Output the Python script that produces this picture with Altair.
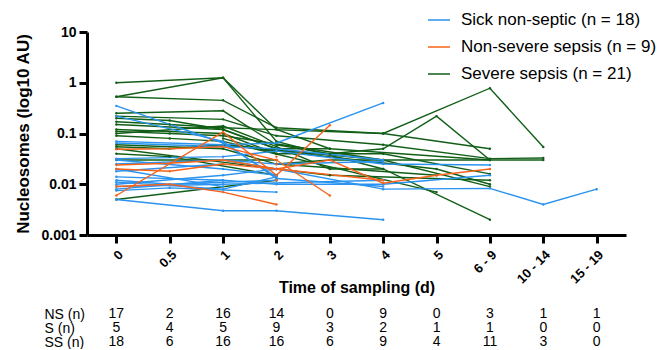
import altair as alt
import pandas as pd

times = ["0", "0.5", "1", "2", "3", "4", "5", "6 - 9", "10 - 14", "15 - 19"]
groups = ["Sick non-septic (n = 18)", "Non-severe sepsis (n = 9)", "Severe sepsis (n = 21)"]
colors = ["#2A93F0", "#F7631B", "#115E17"]
N = None

# Sick non-septic patients (value per time point, None = not sampled)
ns = [
    [0.35, N, 0.065, 0.014, N, N, N, N, N, N],
    [0.22, N, 0.07, 0.013, N, 0.009, N, N, N, N],
    [0.07, N, 0.06, 0.065, N, 0.4, N, N, N, N],
    [0.065, N, 0.055, 0.05, N, 0.03, N, N, N, N],
    [0.032, N, 0.035, 0.045, N, 0.025, N, 0.024, N, N],
    [0.03, N, 0.02, 0.015, N, N, N, N, N, N],
    [0.025, N, 0.03, 0.02, N, 0.008, N, 0.0083, 0.004, 0.008],
    [0.014, N, 0.012, 0.01, N, 0.01, N, 0.015, N, N],
    [0.012, 0.01, N, 0.012, N, N, N, N, N, N],
    [0.011, N, 0.008, 0.014, N, N, N, N, N, N],
    [0.01, N, 0.015, 0.02, N, N, N, N, N, N],
    [0.009, N, 0.01, N, N, 0.012, N, N, N, N],
    [0.008, N, 0.012, N, N, N, N, N, N, N],
    [0.0075, 0.0085, N, 0.007, N, N, N, N, N, N],
    [0.005, N, 0.003, 0.003, N, 0.002, N, N, N, N],
    [0.018, N, 0.025, N, N, N, N, N, N, N],
    [0.02, N, 0.009, N, N, N, N, N, N, N],
    [N, N, 0.03, 0.025, N, 0.028, N, N, N, N],
]
# Non-severe sepsis patients
s = [
    [0.006, N, 0.106, 0.015, 0.145, N, N, N, N, N],
    [0.049, 0.05, 0.055, 0.03, 0.006, N, N, N, N, N],
    [0.024, 0.026, 0.03, 0.02, 0.03, 0.0105, 0.015, 0.02, N, N],
    [0.02, 0.018, 0.025, 0.02, N, 0.012, N, N, N, N],
    [0.009, 0.01, 0.007, 0.004, N, N, N, N, N, N],
    [N, N, N, 0.03, N, N, N, N, N, N],
    [N, N, N, 0.025, N, N, N, N, N, N],
    [N, N, N, 0.012, N, N, N, N, N, N],
    [N, N, N, 0.035, N, N, N, N, N, N],
]
# Severe sepsis patients
ss = [
    [1.0, N, 1.25, 0.12, 0.05, N, N, N, N, N],
    [0.53, N, 1.25, 0.07, N, 0.02, N, N, N, N],
    [0.53, N, 0.45, 0.13, N, 0.1, N, 0.78, 0.054, N],
    [0.25, N, 0.28, 0.06, 0.04, 0.05, 0.22, 0.03, N, N],
    [0.22, N, 0.19, 0.09, N, 0.06, N, 0.032, 0.033, N],
    [0.17, 0.15, 0.13, N, N, 0.1, N, 0.05, N, N],
    [0.15, N, 0.12, 0.05, 0.05, N, N, 0.03, 0.03, N],
    [0.12, N, 0.1, 0.04, N, 0.04, N, 0.016, N, N],
    [0.11, 0.1, 0.09, N, N, 0.03, N, 0.009, N, N],
    [0.1, N, 0.14, 0.055, 0.02, 0.02, N, 0.002, N, N],
    [0.09, 0.08, 0.07, N, N, N, 0.007, N, N, N],
    [0.06, N, 0.05, 0.025, 0.03, N, N, 0.03, N, N],
    [0.055, 0.05, 0.06, N, N, N, 0.02, 0.01, N, N],
    [0.05, N, N, 0.02, 0.015, N, N, 0.012, N, N],
    [0.04, 0.035, N, 0.015, N, N, N, N, N, N],
    [0.03, N, N, 0.03, N, N, N, N, N, N],
    [0.005, N, N, 0.012, N, N, N, N, N, N],
    [0.2, 0.18, 0.12, 0.05, N, N, N, N, N, N],
    [N, N, 0.08, 0.04, N, N, N, N, N, N],
    [N, N, 0.06, N, N, 0.03, N, N, N, N],
    [N, N, N, 0.025, N, N, 0.015, N, N, N],
]

table_rows = ["NS (n)", "S (n)", "SS (n)"]
ns_n = [17, 2, 16, 14, 0, 9, 0, 3, 1, 1]
s_n = [5, 4, 5, 9, 3, 2, 1, 1, 0, 0]
ss_n = [18, 6, 16, 16, 6, 9, 4, 11, 3, 0]

records = []
for gname, series, tag in [(groups[2], ss, "SS"), (groups[0], ns, "NS"), (groups[1], s, "S")]:
    for pi, vals in enumerate(series):
        for ti, v in enumerate(vals):
            if v is not None:
                records.append({"group": gname, "patient": f"{tag}{pi}", "time": times[ti],
                                "idx": ti, "value": v})
df = pd.DataFrame(records)

trows = []
for rname, counts in zip(table_rows, [ns_n, s_n, ss_n]):
    for ti, c in enumerate(counts):
        trows.append({"row": rname, "time": times[ti], "n": c})
tdf = pd.DataFrame(trows)

FONT = "Liberation Sans"
W = 539
xscale = alt.Scale(type="point", domain=times, padding=0.55)

xaxis = alt.Axis(title="Time of sampling (d)", labelAngle=-45, labelFontSize=13,
                 labelFontWeight="bold", labelFont=FONT, labelColor="black",
                 titleFontSize=16, titleFontWeight="bold", titleFont=FONT, titleColor="black",
                 titleBaseline="middle", titleY=52,
                 domainWidth=3, domainColor="black", tickWidth=3, tickColor="black",
                 tickSize=8, labelPadding=5, grid=False)
yaxis = alt.Axis(title="Nucleosomes (log10 AU)", values=[0.001, 0.01, 0.1, 1, 10], format="~g",
                 labelFontSize=14, labelFontWeight="bold", labelFont=FONT, labelColor="black",
                 titleFontSize=17, titleFontWeight="bold", titleFont=FONT, titleColor="black",
                 titlePadding=8, domainWidth=3, domainColor="black", tickWidth=3,
                 tickColor="black", tickSize=8, labelPadding=3, grid=False)

x = alt.X("time:N", scale=xscale, sort=times, axis=xaxis)
y = alt.Y("value:Q", scale=alt.Scale(type="log", domain=[0.001, 10]), axis=yaxis)
cscale = alt.Scale(domain=groups, range=colors)

lines = alt.Chart(df).mark_line(strokeWidth=1.4).encode(
    x=x, y=y,
    color=alt.Color("group:N", scale=cscale, sort=groups,
                    legend=alt.Legend(title=None, orient="none", legendX=340, legendY=-24,
                                      symbolType="stroke", symbolSize=484,
                                      symbolStrokeWidth=1.5, labelFontSize=17,
                                      labelFont=FONT, labelColor="black", labelOffset=10,
                                      labelLimit=0, rowPadding=7, padding=0)),
    detail="patient:N",
    order="idx:Q",
)
pts = alt.Chart(df).mark_circle(size=6, opacity=1).encode(
    x=x, y=y,
    color=alt.Color("group:N", scale=cscale, legend=None),
)
main = alt.layer(lines, pts).properties(width=W, height=203)

table = alt.Chart(tdf).mark_text(font=FONT, fontSize=14, color="black").encode(
    x=alt.X("time:N", scale=xscale, sort=times, axis=None),
    y=alt.Y("row:N", sort=table_rows, scale=alt.Scale(type="point", domain=table_rows, padding=0.5),
            axis=alt.Axis(title=None, domain=False, ticks=False, tickSize=0, labelAlign="left",
                          labelPadding=43, labelFontSize=14, labelFont=FONT,
                          labelColor="black", grid=False)),
    text="n:Q",
).properties(width=W, height=42)

chart = alt.vconcat(main, table, spacing=12).resolve_scale(color="independent").properties(
    padding={"left": 6, "top": 0, "right": 5, "bottom": 0}
).configure_view(stroke=None)

chart.save("out.html", embed_options={"renderer": "svg", "actions": False})
